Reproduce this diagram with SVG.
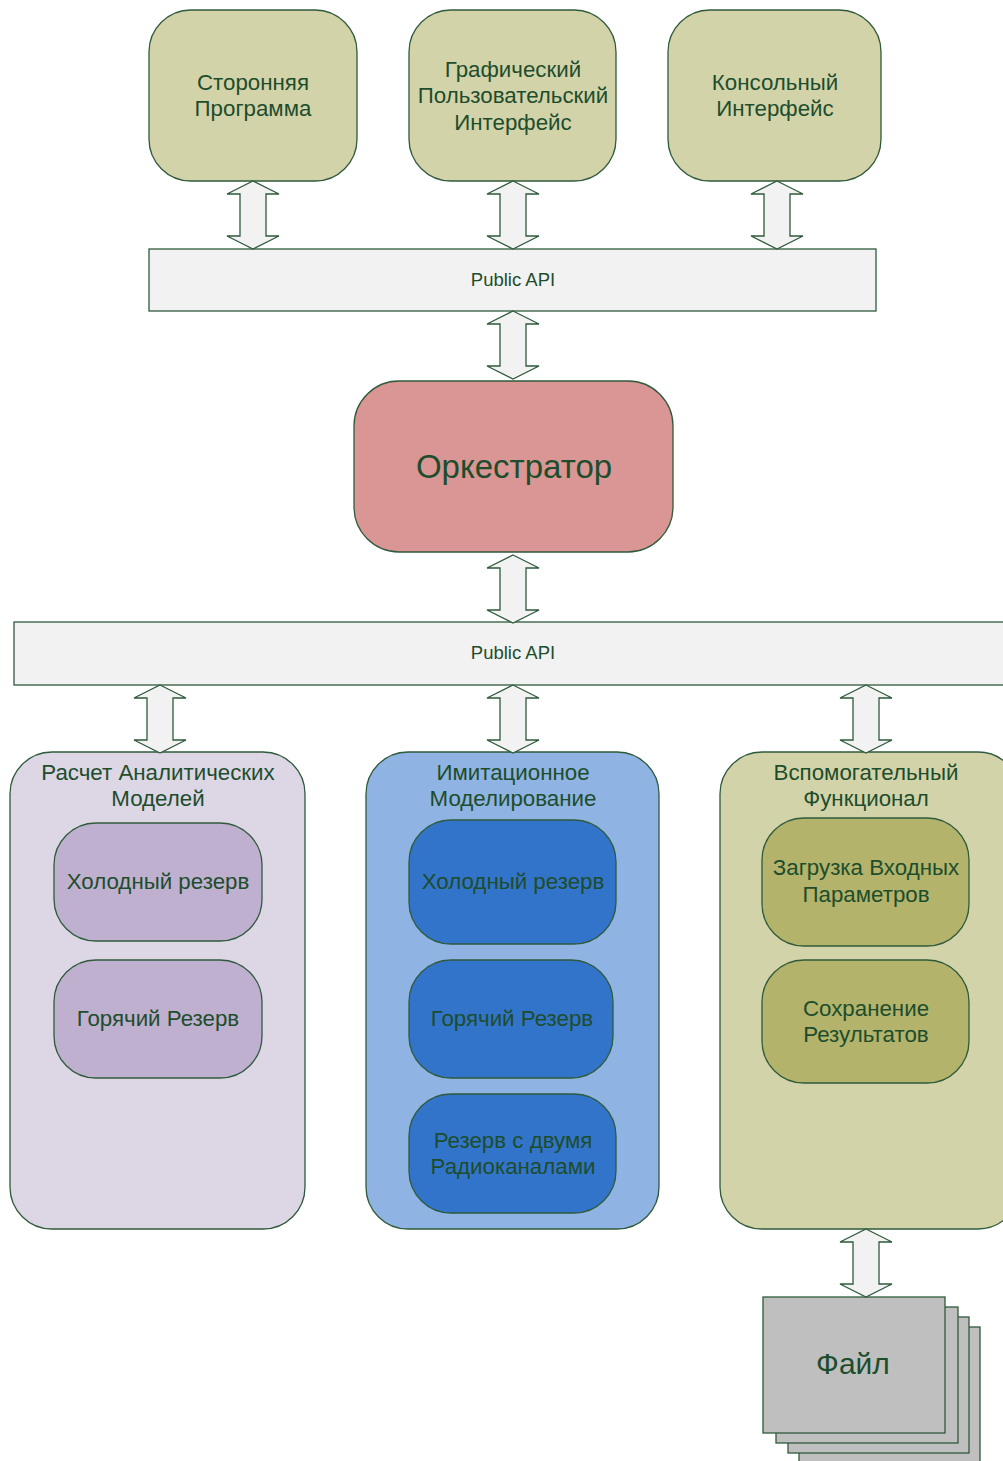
<svg xmlns="http://www.w3.org/2000/svg" width="1003" height="1461" viewBox="0 0 1003 1461">
<style>
text{font-family:"Liberation Sans",Arial,sans-serif;fill:#1d4d2c;text-anchor:middle;font-size:22.3px}
.s{stroke:#2f5a3b;stroke-width:1.3}
.olive{fill:#d3d3aa}
.api{fill:#f2f2f2}
.arr{fill:#f2f2f2;stroke:#2f5a3b;stroke-width:1.3}
.lav{fill:#dcd6e5}
.lav2{fill:#bfb0d0}
.blu{fill:#8fb3e2}
.blu2{fill:#3374cb}
.ol2{fill:#b3b36b}
.file{fill:#bfbfbf}
.sm{font-size:18.5px}
</style>
<defs>
<path id="dbl" d="M0 0 L26 13 L13 13 L13 55 L26 55 L0 68 L-26 55 L-13 55 L-13 13 L-26 13 Z"/>
</defs>
<g id="ext-program"><rect class="s olive" x="149" y="10" width="208" height="171" rx="42"/><text x="253" y="90">Сторонняя</text><text x="253" y="116">Программа</text></g>
<g id="gui"><rect class="s olive" x="409" y="10" width="207" height="171" rx="42"/><text x="513" y="77">Графический</text><text x="513" y="103">Пользовательский</text><text x="513" y="130">Интерфейс</text></g>
<g id="cli"><rect class="s olive" x="668" y="10" width="213" height="171" rx="42"/><text x="775" y="90">Консольный</text><text x="775" y="116">Интерфейс</text></g>
<g id="api1"><rect class="s api" x="149" y="249" width="727" height="62"/><text class="sm" x="513" y="286">Public API</text></g>
<g id="orchestrator"><rect class="s" fill="#d99694" x="354" y="381" width="319" height="171" rx="45"/><text x="514" y="478" style="font-size:33px">Оркестратор</text></g>
<g id="api2"><rect class="s api" x="14" y="622" width="995" height="63"/><text class="sm" x="513" y="659">Public API</text></g>
<g id="analytic"><rect class="s lav" x="10" y="752" width="295" height="477" rx="42"/><text x="158" y="780">Расчет Аналитических</text><text x="158" y="806">Моделей</text></g>
<g id="analytic-cold"><rect class="s lav2" x="54" y="823" width="208" height="118" rx="42"/><text x="158" y="889">Холодный резерв</text></g>
<g id="analytic-hot"><rect class="s lav2" x="54" y="960" width="208" height="118" rx="42"/><text x="158" y="1026">Горячий Резерв</text></g>
<g id="sim"><rect class="s blu" x="366" y="752" width="293" height="477" rx="42"/><text x="513" y="780">Имитационное</text><text x="513" y="806">Моделирование</text></g>
<g id="sim-cold"><rect class="s blu2" x="409" y="820" width="207" height="124" rx="42"/><text x="513" y="889">Холодный резерв</text></g>
<g id="sim-hot"><rect class="s blu2" x="409" y="960" width="204" height="118" rx="42"/><text x="512" y="1026">Горячий Резерв</text></g>
<g id="sim-radio"><rect class="s blu2" x="409" y="1094" width="207" height="119" rx="42"/><text x="513" y="1148">Резерв с двумя</text><text x="513" y="1174">Радиоканалами</text></g>
<g id="aux"><rect class="s olive" x="720" y="752" width="300" height="477" rx="42"/><text x="866" y="780">Вспомогательный</text><text x="866" y="806">Функционал</text></g>
<g id="aux-load"><rect class="s ol2" x="762" y="818" width="207" height="128" rx="42"/><text x="866" y="875">Загрузка Входных</text><text x="866" y="902">Параметров</text></g>
<g id="aux-save"><rect class="s ol2" x="762" y="960" width="207" height="123" rx="42"/><text x="866" y="1016">Сохранение</text><text x="866" y="1042">Результатов</text></g>
<g id="file">
<rect class="s file" x="799" y="1327" width="181" height="140"/>
<rect class="s file" x="788" y="1317" width="181" height="136"/>
<rect class="s file" x="776" y="1307" width="182" height="136"/>
<rect class="s file" x="763" y="1297" width="182" height="136"/>
<text x="853" y="1374" style="font-size:30px">Файл</text></g>
<g id="connectors" class="arr">
<use href="#dbl" x="253" y="181"/>
<use href="#dbl" x="513" y="181"/>
<use href="#dbl" x="777" y="181"/>
<use href="#dbl" x="513" y="311"/>
<use href="#dbl" x="513" y="555"/>
<use href="#dbl" x="160" y="685"/>
<use href="#dbl" x="513" y="685"/>
<use href="#dbl" x="866" y="685"/>
<use href="#dbl" x="866" y="1229"/>
</g>
</svg>
